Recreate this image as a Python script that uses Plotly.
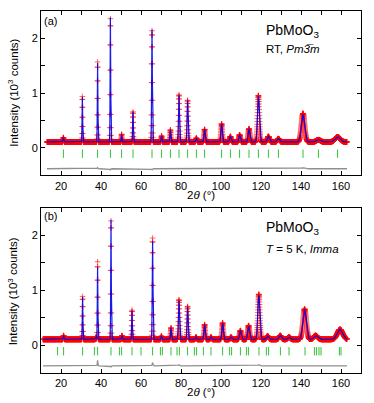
import numpy as np
import plotly.graph_objects as go

# ---- panel (a): RT, Pm-3m ----
pos_a = [21.2, 30.7, 38.3, 44.7, 50.3, 56.0, 65.5, 70.3, 74.7, 79.0, 83.3, 87.7,
         91.8, 100.3, 104.7, 109.3, 114.0, 118.7, 123.7, 128.7, 141.0, 148.7, 158.3]
obs_a = [0.08, 0.83, 1.46, 2.25, 0.14, 0.55, 2.03, 0.11, 0.22, 0.86, 0.76, 0.07,
         0.23, 0.33, 0.10, 0.13, 0.24, 0.85, 0.10, 0.06, 0.52, 0.04, 0.09]
calc_a = [0.08, 0.82, 1.44, 2.27, 0.14, 0.55, 2.05, 0.11, 0.22, 0.85, 0.76, 0.07,
          0.23, 0.33, 0.10, 0.13, 0.24, 0.84, 0.10, 0.06, 0.50, 0.04, 0.09]
fwhm_a = [0.45, 0.32, 0.32, 0.34, 0.36, 0.38, 0.42, 0.45, 0.5, 0.55, 0.6, 0.65,
          0.7, 0.8, 0.85, 0.9, 1.0, 1.1, 1.2, 1.3, 1.9, 2.3, 3.0]
refl_a = [21.2, 30.7, 38.3, 44.7, 50.3, 56.0, 65.5, 70.3, 74.7, 79.0, 83.3, 87.7,
          91.8, 100.3, 104.7, 109.3, 114.0, 118.7, 123.7, 128.7, 141.0, 148.7, 158.3]
bg_a = 0.11
range_a = (13.0, 163.0)
diff_off_a = -0.38

# ---- panel (b): T = 5 K, Imma ----
pos_b = [21.3, 30.8, 37.5, 38.3, 45.0, 50.5, 55.5, 65.8, 70.2, 75.0, 79.0, 83.3,
         87.5, 91.8, 95.0, 100.8, 105.0, 109.7, 113.8, 118.9, 123.3, 129.6, 134.0,
         141.8, 147.3, 159.5]
obs_b = [0.07, 0.78, 0.04, 1.41, 2.15, 0.07, 0.53, 1.84, 0.06, 0.21, 0.72, 0.60,
         0.04, 0.27, 0.04, 0.30, 0.04, 0.16, 0.25, 0.82, 0.06, 0.07, 0.04,
         0.55, 0.07, 0.18]
calc_b = [0.07, 0.77, 0.04, 1.31, 2.17, 0.07, 0.52, 1.78, 0.06, 0.21, 0.70, 0.59,
          0.04, 0.27, 0.04, 0.29, 0.04, 0.16, 0.24, 0.80, 0.06, 0.07, 0.04,
          0.54, 0.07, 0.18]
fwhm_b = [0.45, 0.32, 0.4, 0.32, 0.34, 0.45, 0.38, 0.42, 0.5, 0.5, 0.65, 0.6,
          0.65, 0.7, 0.75, 0.8, 0.85, 0.95, 1.1, 1.15, 1.3, 1.4, 1.5,
          2.0, 2.3, 3.2]
refl_b = [18.3, 21.3, 30.8, 36.7, 38.3, 45.0, 49.2, 50.3, 55.5, 60.0, 65.8, 69.7,
          70.7, 75.0, 78.0, 79.2, 83.3, 86.7, 87.8, 91.2, 95.0, 100.8, 104.3, 105.3,
          109.7, 112.7, 113.7, 119.0, 122.7, 123.8, 129.7, 134.0, 142.0, 146.7,
          147.7, 149.0, 150.0, 159.2, 160.0]
bg_b = 0.11
range_b = (11.0, 163.0)
diff_off_b = -0.37

x_ticks = list(range(10, 171, 10))
x_labels = [str(v) if v % 20 == 0 and 10 < v < 170 else " " for v in x_ticks]
y_ticks = [-0.5, 0, 0.5, 1, 1.5, 2, 2.5]
y_labels = [" ", "0", " ", "1", " ", "2", " "]

FONT = "Liberation Sans, Arial, sans-serif"
STEP = 0.05


def profile(tt, pos, hts, widths, bg):
    y = np.full_like(tt, bg)
    for p, h, w in zip(pos, hts, widths):
        y += h * np.exp(-4 * np.log(2) * (tt - p) ** 2 / w ** 2)
    return y


fig = go.Figure()
panels = [
    (pos_a, obs_a, calc_a, fwhm_a, refl_a, bg_a, range_a, diff_off_a, "x", "y"),
    (pos_b, obs_b, calc_b, fwhm_b, refl_b, bg_b, range_b, diff_off_b, "x2", "y2"),
]
for pos, obs, calc, fw, refl, bg, rng, off, xa, ya in panels:
    tt = np.arange(rng[0], rng[1] + STEP / 2, STEP)
    y_obs = profile(tt, pos, obs, fw, bg)
    y_calc = profile(tt, pos, calc, fw, bg)
    fig.add_trace(go.Scatter(x=tt, y=y_obs, mode="markers", xaxis=xa, yaxis=ya,
                             marker=dict(symbol="cross-thin", size=4,
                                         line=dict(color="rgba(255,0,0,0.6)", width=1))))
    fig.add_trace(go.Scatter(x=tt, y=y_calc, mode="lines", xaxis=xa, yaxis=ya,
                             line=dict(color="rgba(0,0,235,0.9)", width=1.2)))
    fig.add_trace(go.Scatter(x=tt, y=y_obs - y_calc + off, mode="lines",
                             xaxis=xa, yaxis=ya,
                             line=dict(color="rgba(115,115,115,0.8)", width=1.3)))
    fig.add_trace(go.Scatter(x=refl, y=[-0.105] * len(refl), mode="markers",
                             xaxis=xa, yaxis=ya,
                             marker=dict(symbol="line-ns", size=6,
                                         line=dict(color="#33c233", width=1))))

axis_common = dict(showgrid=False, zeroline=False, showline=True, linecolor="black",
                   linewidth=1, mirror="ticks", ticks="inside", ticklen=4,
                   tickcolor="black", tickwidth=1, tickfont=dict(size=11, color="black"))

fig.update_layout(
    width=374, height=403,
    margin=dict(l=41, r=13, t=5, b=30),
    paper_bgcolor="white", plot_bgcolor="white",
    showlegend=False,
    font=dict(family=FONT, size=11, color="black"),
    xaxis=dict(domain=[0, 1], range=[10, 170], tickvals=x_ticks, ticktext=x_labels,
               anchor="y", **axis_common),
    yaxis=dict(domain=[0.546, 1], range=[-0.5, 2.5], tickvals=y_ticks,
               ticktext=y_labels, anchor="x", **axis_common),
    xaxis2=dict(domain=[0, 1], range=[10, 170], tickvals=x_ticks, ticktext=x_labels,
                anchor="y2", **axis_common),
    yaxis2=dict(domain=[0, 0.4565], range=[-0.5, 2.5], tickvals=y_ticks,
                ticktext=y_labels, anchor="x2", **axis_common),
)

ann = []
for xr, yr, lab, pyt, py1, py2, line2 in [
    ("x", "y", "(a)", 2.32, 2.14, 1.80, "RT, <i>Pm3̅m</i>"),
    ("x2", "y2", "(b)", 2.35, 2.14, 1.76, "<i>T</i> = 5 K, <i>Imma</i>"),
]:
    ann.append(dict(x=10.6, y=pyt, xref=xr, yref=yr, text=lab, showarrow=False,
                    xanchor="left", yanchor="middle", font=dict(size=11)))
    ann.append(dict(x=121.5, y=py1, xref=xr, yref=yr, text="PbMoO<sub>3</sub>",
                    showarrow=False, xanchor="left", yanchor="middle",
                    font=dict(size=14)))
    ann.append(dict(x=121.5, y=py2, xref=xr, yref=yr, text=line2, showarrow=False,
                    xanchor="left", yanchor="middle", font=dict(size=11.5)))

# axis titles
for py in [192, 392]:
    ann.append(dict(x=(201 - 41) / 320, y=(373 - py) / 368, xref="paper", yref="paper",
                    text="2<i>θ</i> (°)", showarrow=False, xanchor="center",
                    yanchor="middle", font=dict(size=11.5)))
for py in [88, 290]:
    ann.append(dict(x=-28 / 320, y=(373 - py) / 368, xref="paper", yref="paper",
                    text="Intensity (10<sup>3</sup> counts)", showarrow=False,
                    textangle=-90, xanchor="center", yanchor="middle",
                    font=dict(size=11.5)))
fig.update_layout(annotations=ann)

fig.write_html("out.html", config={"displayModeBar": False},
               post_script="document.body.style.margin='0';")
